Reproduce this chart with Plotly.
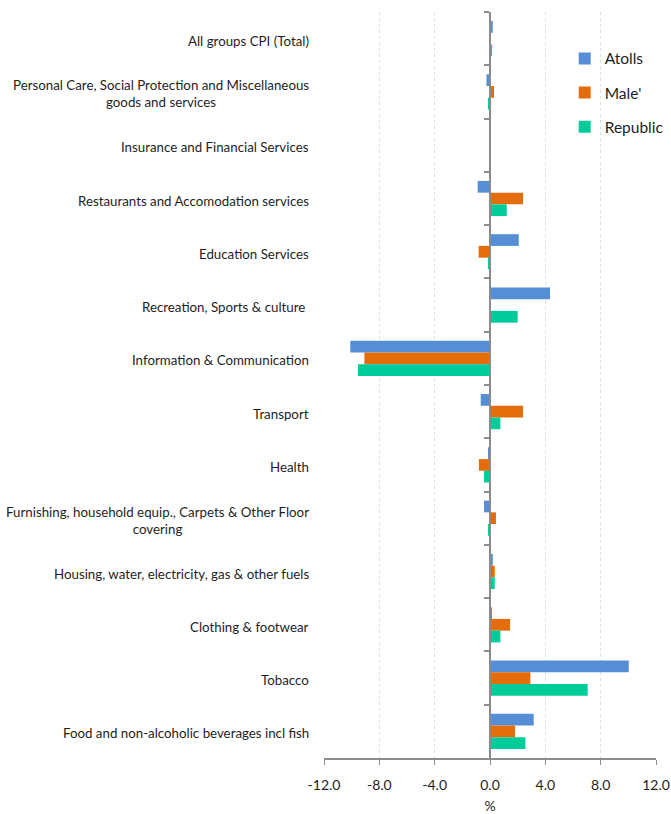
import plotly.graph_objects as go

# CPI change by division, top to bottom as listed
categories = [
    "All groups CPI (Total)",
    "Personal Care, Social Protection and Miscellaneous<br>goods and services",
    "Insurance and Financial Services",
    "Restaurants and Accomodation services",
    "Education Services",
    "Recreation, Sports & culture ",
    "Information & Communication",
    "Transport",
    "Health",
    "Furnishing, household equip., Carpets & Other Floor<br>covering",
    "Housing, water, electricity, gas & other fuels",
    "Clothing & footwear",
    "Tobacco",
    "Food and non-alcoholic beverages incl fish",
]

atolls = [0.2, -0.26, 0.0, -0.89, 2.08, 4.34, -10.1, -0.67, -0.1, -0.43, 0.2, 0.12, 10.03, 3.16]
male = [0.03, 0.29, 0.0, 2.39, -0.82, 0.0, -9.08, 2.39, -0.8, 0.43, 0.34, 1.45, 2.92, 1.81]
republic = [0.12, -0.1, 0.0, 1.21, -0.1, 2.0, -9.54, 0.75, -0.43, -0.12, 0.34, 0.75, 7.06, 2.56]

x_ticks = [-12, -8, -4, 0, 4, 8, 12]
x_tick_text = [f"{v:.1f}" for v in x_ticks]

series = [
    ("Atolls", atolls, "#558ED5"),
    ("Male'", male, "#E46C0A"),
    ("Republic", republic, "#00CC99"),
]

FONT = "Lato, Open Sans, sans-serif"
TEXT = "#1e1e1e"

fig = go.Figure()
for i, (name, vals, color) in enumerate(series):
    fig.add_trace(go.Bar(
        y=categories, x=vals, orientation="h", name=name,
        marker=dict(color=color, line=dict(width=0)),
        legendgroup=str(i),
    ))

# category labels to the left of the plot area, centred per line
for cat in categories:
    fig.add_annotation(
        x=0, xref="paper", y=cat, yref="y", text=cat, showarrow=False,
        xanchor="right", xshift=-13, yshift=-2, align="center",
        font=dict(family=FONT, size=13.3, color=TEXT),
    )

fig.update_layout(
    width=671, height=814,
    margin=dict(l=324, r=15, t=12, b=56, autoexpand=False),
    paper_bgcolor="white", plot_bgcolor="white",
    barmode="group", bargap=0.34, bargroupgap=0,
    font=dict(family=FONT, size=14, color=TEXT),
    legend=dict(
        x=0.725, y=0.96, xanchor="left", yanchor="top",
        traceorder="grouped", tracegroupgap=11,
        font=dict(family=FONT, size=15.5, color=TEXT),
        itemwidth=30, bgcolor="rgba(0,0,0,0)",
    ),
    xaxis=dict(
        range=[-12, 12], tickmode="array", tickvals=x_ticks, ticktext=x_tick_text,
        ticks="outside", ticklen=5, tickcolor="#8c8c8c",
        ticklabelstandoff=8,
        showline=True, linecolor="#8c8c8c", linewidth=1.5,
        showgrid=True, gridcolor="#d9e1f0", griddash="dot", gridwidth=1,
        zeroline=False,
        title=dict(text="%", standoff=21, font=dict(size=14)),
        tickfont=dict(size=14),
    ),
    yaxis=dict(
        autorange="reversed", anchor="free", position=0.5,
        showticklabels=False, ticks="outside", tickson="boundaries",
        ticklen=5, tickcolor="#8c8c8c", tickwidth=2,
        showline=True, linecolor="#8c8c8c", linewidth=2,
        showgrid=False, zeroline=False,
    ),
)

fig.write_html("out.html")
